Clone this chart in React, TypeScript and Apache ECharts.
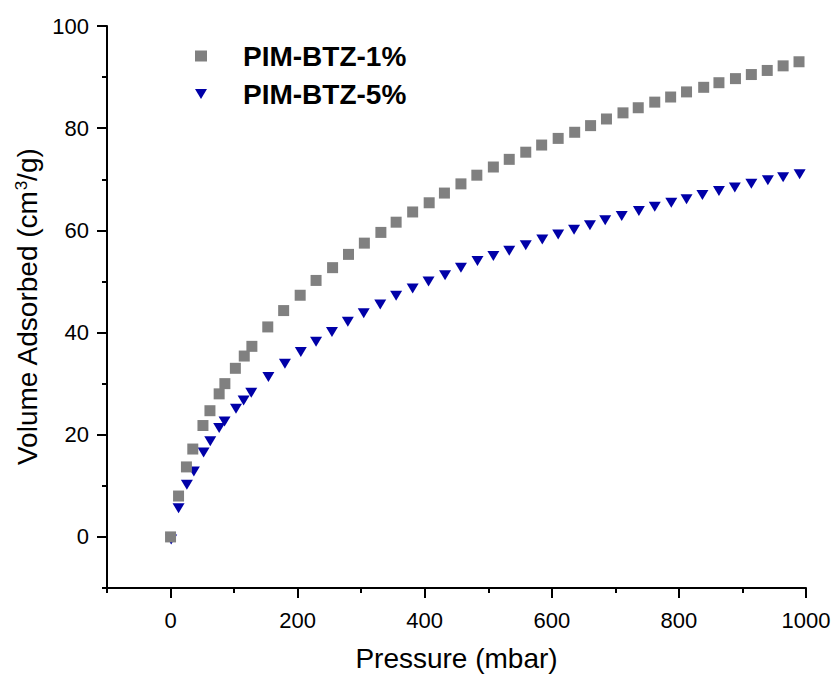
import React, { useEffect, useRef } from "react";
import * as echarts from "echarts";

const FONT = '"Liberation Sans", Arial, sans-serif';

const seriesNames = ["PIM-BTZ-1%", "PIM-BTZ-5%"];

const pressure1 = [0, 12.6, 25, 35, 51, 62, 76.5, 85.5, 102, 116, 128, 153, 178, 204, 229, 255, 280, 305, 331, 355, 381, 407, 431, 457, 482, 508, 533, 559, 584, 610, 636, 661, 686, 712, 736, 762, 787, 812, 839, 863, 889, 914, 939, 964, 989];
const volume1 = [0, 8.0, 13.7, 17.2, 21.8, 24.7, 28.0, 30.0, 33.0, 35.4, 37.3, 41.1, 44.3, 47.3, 50.2, 52.7, 55.3, 57.5, 59.6, 61.6, 63.6, 65.4, 67.3, 69.1, 70.8, 72.4, 73.9, 75.3, 76.7, 78.0, 79.2, 80.5, 81.8, 83.0, 84.0, 85.1, 86.1, 87.1, 88.0, 88.9, 89.7, 90.5, 91.3, 92.2, 93.0];

const pressure5 = [1, 12.6, 25.7, 36.7, 52, 62.5, 76.5, 85, 103, 115, 127, 154, 180, 205, 229, 254, 279, 304, 330, 355, 381, 406, 432, 457, 483, 508, 533, 559, 585, 610, 635, 660, 684, 710, 737, 762, 788, 812, 837, 863, 888, 914, 940, 964, 990];
const volume5 = [-0.5, 5.6, 10.2, 12.8, 16.5, 18.7, 21.3, 22.6, 25.1, 26.7, 28.2, 31.3, 33.9, 36.2, 38.2, 40.1, 42.1, 43.8, 45.5, 47.2, 48.6, 50.0, 51.2, 52.7, 54.0, 55.0, 56.0, 57.1, 58.2, 59.2, 60.1, 61.0, 62.0, 62.8, 63.8, 64.6, 65.4, 66.1, 66.9, 67.7, 68.4, 69.1, 69.8, 70.4, 71.0];

const xMajorTicks = [0, 200, 400, 600, 800, 1000];
const xMinorTicks = [-100, 100, 300, 500, 700, 900];
const yMajorTicks = [0, 20, 40, 60, 80, 100];
const yMinorTicks = [-10, 10, 30, 50, 70, 90];

const TRI = "path://M0,0 L12,0 L6,10 Z";

export default function App() {
  const ref = useRef<HTMLDivElement>(null);
  useEffect(() => {
    if (!ref.current) return;
    const chart = echarts.init(ref.current, null, { renderer: "svg" });
    const axisLineStyle = { color: "#000", width: 2 };
    const plain = (v: number) => String(v);
    chart.setOption({
      animation: false,
      backgroundColor: "#fff",
      grid: { left: 107, right: 28, top: 26, bottom: 89, containLabel: false },
      legend: {
        orient: "vertical",
        left: 195,
        top: 42,
        padding: 0,
        itemGap: 10,
        itemWidth: 12,
        itemHeight: 11,
        symbolKeepAspect: true,
        data: [
          { name: seriesNames[0], icon: "rect" },
          { name: seriesNames[1], icon: TRI },
        ],
        textStyle: {
          fontFamily: FONT,
          fontWeight: "bold",
          fontSize: 28,
          lineHeight: 28,
          color: "#000",
          padding: [0, 0, 0, 31],
        },
      },
      xAxis: [
        {
          type: "value",
          min: -100,
          max: 1000,
          position: "bottom",
          axisLine: { show: true, onZero: false, lineStyle: axisLineStyle },
          axisTick: { show: true, customValues: xMajorTicks, length: 10, lineStyle: axisLineStyle },
          axisLabel: { customValues: xMajorTicks, formatter: plain, margin: 21, fontSize: 22, color: "#000", fontFamily: FONT },
          splitLine: { show: false },
          name: "Pressure (mbar)",
          nameLocation: "middle",
          nameGap: 56,
          nameTextStyle: { fontSize: 28, color: "#000", fontFamily: FONT },
        },
        {
          type: "value",
          min: -100,
          max: 1000,
          position: "bottom",
          gridIndex: 0,
          axisLine: { show: false, onZero: false },
          axisTick: { show: true, customValues: xMinorTicks, length: 5, lineStyle: axisLineStyle },
          axisLabel: { show: false },
          splitLine: { show: false },
        },
      ],
      yAxis: [
        {
          type: "value",
          min: -10,
          max: 100,
          position: "left",
          axisLine: { show: true, onZero: false, lineStyle: axisLineStyle },
          axisTick: { show: true, customValues: yMajorTicks, length: 10, lineStyle: axisLineStyle },
          axisLabel: { customValues: yMajorTicks, formatter: plain, margin: 18, fontSize: 22, color: "#000", fontFamily: FONT },
          splitLine: { show: false },
          name: "{a|Volume Adsorbed (cm}{s|3}{a|/g)}",
          nameLocation: "middle",
          nameGap: 59,
          nameTextStyle: {
            color: "#000",
            fontFamily: FONT,
            fontSize: 28,
            rich: {
              a: { fontSize: 28, lineHeight: 28, fontFamily: FONT, color: "#000" },
              s: { fontSize: 17, lineHeight: 17, fontFamily: FONT, color: "#000", verticalAlign: "top" },
            },
          },
        },
        {
          type: "value",
          min: -10,
          max: 100,
          position: "left",
          gridIndex: 0,
          axisLine: { show: false, onZero: false },
          axisTick: { show: true, customValues: yMinorTicks, length: 5, lineStyle: axisLineStyle },
          axisLabel: { show: false },
          splitLine: { show: false },
        },
      ],
      series: [
        {
          name: seriesNames[0],
          type: "scatter",
          xAxisIndex: 0,
          yAxisIndex: 0,
          symbol: "rect",
          symbolSize: 11,
          z: 3,
          itemStyle: { color: "#808080", opacity: 1 },
          data: pressure1.map((p, i) => [p, volume1[i]]),
        },
        {
          name: seriesNames[1],
          type: "scatter",
          xAxisIndex: 0,
          yAxisIndex: 0,
          symbol: TRI,
          symbolSize: [12, 10],
          z: 2,
          itemStyle: { color: "#0000A8", opacity: 1 },
          data: pressure5.map((p, i) => [p, volume5[i]]),
        },
      ],
    });
    return () => chart.dispose();
  }, []);
  return (
    <div
      ref={ref}
      style={{ position: "fixed", left: 0, top: 0, width: 834, height: 677, background: "#fff" }}
    />
  );
}
